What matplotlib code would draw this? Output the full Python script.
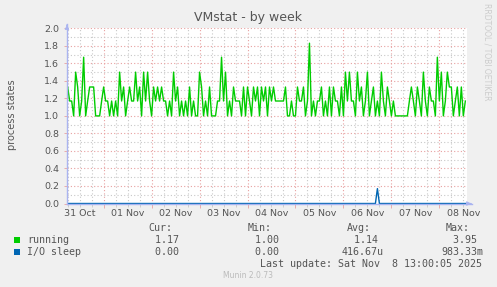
import matplotlib
matplotlib.use("Agg")
import matplotlib.pyplot as plt
import matplotlib.dates as mdates
from matplotlib.ticker import MultipleLocator, FormatStrFormatter, NullFormatter
import numpy as np
import pandas as pd

# Data: hourly samples, Oct 31 06:00 -> Nov 8 13:00
times = pd.date_range("2025-10-31 06:00", periods=200, freq="h")
running = [
    1.33, 1.17, 1.17, 1.00, 1.50, 1.33, 1.00, 1.17, 1.67, 1.00,
    1.17, 1.33, 1.33, 1.33, 1.00, 1.00, 1.00, 1.17, 1.33, 1.17,
    1.17, 1.00, 1.17, 1.00, 1.17, 1.00, 1.50, 1.17, 1.33, 1.00,
    1.17, 1.33, 1.17, 1.17, 1.50, 1.17, 1.33, 1.00, 1.50, 1.17,
    1.50, 1.17, 1.00, 1.33, 1.17, 1.33, 1.17, 1.33, 1.17, 1.17,
    1.00, 1.17, 1.00, 1.50, 1.17, 1.33, 1.00, 1.17, 1.00, 1.17,
    1.00, 1.33, 1.00, 1.17, 1.00, 1.00, 1.50, 1.33, 1.00, 1.17,
    1.00, 1.33, 1.00, 1.00, 1.00, 1.17, 1.17, 1.67, 1.17, 1.50,
    1.00, 1.17, 1.00, 1.33, 1.17, 1.17, 1.17, 1.00, 1.33, 1.00,
    1.33, 1.17, 1.00, 1.33, 1.17, 1.33, 1.00, 1.33, 1.17, 1.33,
    1.00, 1.33, 1.17, 1.33, 1.17, 1.17, 1.17, 1.17, 1.17, 1.33,
    1.00, 1.00, 1.17, 1.00, 1.00, 1.33, 1.17, 1.17, 1.33, 1.00,
    1.17, 1.83, 1.00, 1.17, 1.00, 1.17, 1.17, 1.33, 1.00, 1.17,
    1.00, 1.33, 1.00, 1.33, 1.17, 1.17, 1.00, 1.33, 1.00, 1.50,
    1.17, 1.50, 1.17, 1.17, 1.00, 1.50, 1.17, 1.33, 1.00, 1.17,
    1.50, 1.00, 1.17, 1.33, 1.00, 1.17, 1.00, 1.50, 1.17, 1.00,
    1.33, 1.17, 1.00, 1.17, 1.00, 1.00, 1.00, 1.00, 1.00, 1.00,
    1.00, 1.17, 1.33, 1.17, 1.00, 1.33, 1.17, 1.00, 1.50, 1.17,
    1.00, 1.33, 1.17, 1.17, 1.00, 1.67, 1.17, 1.50, 1.00, 1.17,
    1.50, 1.33, 1.33, 1.00, 1.17, 1.33, 1.00, 1.33, 1.00, 1.17,
]
io_sleep = [0.0] * 200
io_sleep[155] = 0.17

series_names = ["running", "I/O sleep"]
series_colors = ["#00CC00", "#0066B3"]
cur_vals = ["1.17 ", "0.00 "]
min_vals = ["1.00 ", "0.00 "]
avg_vals = ["1.14 ", "416.67u"]
max_vals = ["3.95 ", "983.33m"]

W, H = 497, 287
fig = plt.figure(figsize=(W / 100, H / 100), dpi=100, facecolor="#F0F0F0")

x0, x1 = 67, 467
ytop, ybot = 28.3, 203.5
ax = fig.add_axes([x0 / W, 1 - ybot / H, (x1 - x0) / W, (ybot - ytop) / H])
ax.set_facecolor("white")

ax.plot(times, running, color=series_colors[0], lw=1.0, zorder=3)
ax.plot(times, io_sleep, color=series_colors[1], lw=1.0, zorder=4)

ax.set_xlim(pd.Timestamp("2025-10-31 05:40"), pd.Timestamp("2025-11-08 13:50"))
ax.set_ylim(0, 2.0)

# grid
ax.yaxis.set_major_locator(MultipleLocator(0.2))
ax.yaxis.set_minor_locator(MultipleLocator(0.1))
ax.yaxis.set_major_formatter(FormatStrFormatter("%.1f"))
ax.xaxis.set_major_locator(mdates.HourLocator(byhour=[0]))
ax.xaxis.set_minor_locator(mdates.HourLocator(byhour=[6, 12, 18]))
ax.xaxis.set_major_formatter(NullFormatter())
ax.xaxis.set_minor_formatter(NullFormatter())
ax.grid(which="major", color="#E8A0A0", ls=(0, (1, 2)), lw=0.8, zorder=1)
ax.grid(which="minor", color="#C8C8C8", ls=(0, (1, 2)), lw=0.8, zorder=1)

ax.tick_params(which="both", colors="#555555", labelsize=6.8, length=2, width=0.6)
ax.tick_params(axis="x", which="major", colors="#E8A0A0", length=3)
ax.tick_params(axis="x", which="minor", colors="#C8C8C8", length=2)
for lbl in ax.get_yticklabels():
    lbl.set_color("#555555")
ax.tick_params(axis="y", which="major", colors="#E8A0A0", labelcolor="#555555", length=2)
ax.tick_params(axis="y", which="minor", length=0)

# day labels at noon
for d in pd.date_range("2025-10-31 12:00", periods=9, freq="D"):
    ax.text(mdates.date2num(d), -0.03, d.strftime("%d %b"), transform=ax.get_xaxis_transform(),
            ha="center", va="top", fontsize=6.8, color="#555555")

for s in ax.spines.values():
    s.set_visible(False)

# axis arrows
axis_col = "#AAB4F0"
fig.add_artist(plt.Line2D([x0 / W, x0 / W], [1 - ybot / H, 1 - 24 / H], color=axis_col, lw=1.0))
fig.add_artist(plt.Line2D([x0 / W, 472 / W], [1 - ybot / H, 1 - ybot / H], color=axis_col, lw=1.0, zorder=2))
ax.annotate("", xy=(x0 / W, 1 - 22 / H), xytext=(x0 / W, 1 - 28 / H), xycoords="figure fraction",
            arrowprops=dict(arrowstyle="-|>", color=axis_col, lw=0.8, mutation_scale=6))
ax.annotate("", xy=(474 / W, 1 - ybot / H), xytext=(468 / W, 1 - ybot / H), xycoords="figure fraction",
            arrowprops=dict(arrowstyle="-|>", color=axis_col, lw=0.8, mutation_scale=6))

# title, labels
fig.text(0.5, 1 - 18 / H, "VMstat - by week", ha="center", va="center", fontsize=9, color="#555555")
fig.text(12 / W, 1 - 115 / H, "process states", rotation=90, ha="center", va="center",
         fontsize=7, color="#555555")
fig.text(487 / W, 1 - 52 / H, "RRDTOOL / TOBI OETIKER", rotation=270, ha="center", va="center",
         fontsize=5.5, color="#CCCCCC")

# legend table
mono = dict(family="DejaVu Sans Mono", fontsize=7.2, color="#555555")
fig.text(172 / W, 1 - 228 / H, "Cur:", ha="right", va="center", **mono)
fig.text(272 / W, 1 - 228 / H, "Min:", ha="right", va="center", **mono)
fig.text(371 / W, 1 - 228 / H, "Avg:", ha="right", va="center", **mono)
fig.text(470 / W, 1 - 228 / H, "Max:", ha="right", va="center", **mono)
for k, name in enumerate(series_names):
    yy = 1 - (240 + 12 * k) / H
    fig.patches.append(plt.Rectangle((14 / W, yy - 3 / H), 6 / W, 6 / H, transform=fig.transFigure,
                                     facecolor=series_colors[k], edgecolor="none"))
    fig.text(27 / W, yy, name, ha="left", va="center", **mono)
    fig.text(185 / W, yy, cur_vals[k], ha="right", va="center", **mono)
    fig.text(285 / W, yy, min_vals[k], ha="right", va="center", **mono)
    fig.text(384 / W, yy, avg_vals[k], ha="right", va="center", **mono)
    fig.text(483 / W, yy, max_vals[k], ha="right", va="center", **mono)

fig.text(482 / W, 1 - 264 / H, "Last update: Sat Nov  8 13:00:05 2025", ha="right", va="center", **mono)
fig.text(248 / W, 1 - 276 / H, "Munin 2.0.73", ha="center", va="center", fontsize=5.5, color="#BBBBBB")

fig.savefig("out.png", dpi=100, facecolor=fig.get_facecolor())
